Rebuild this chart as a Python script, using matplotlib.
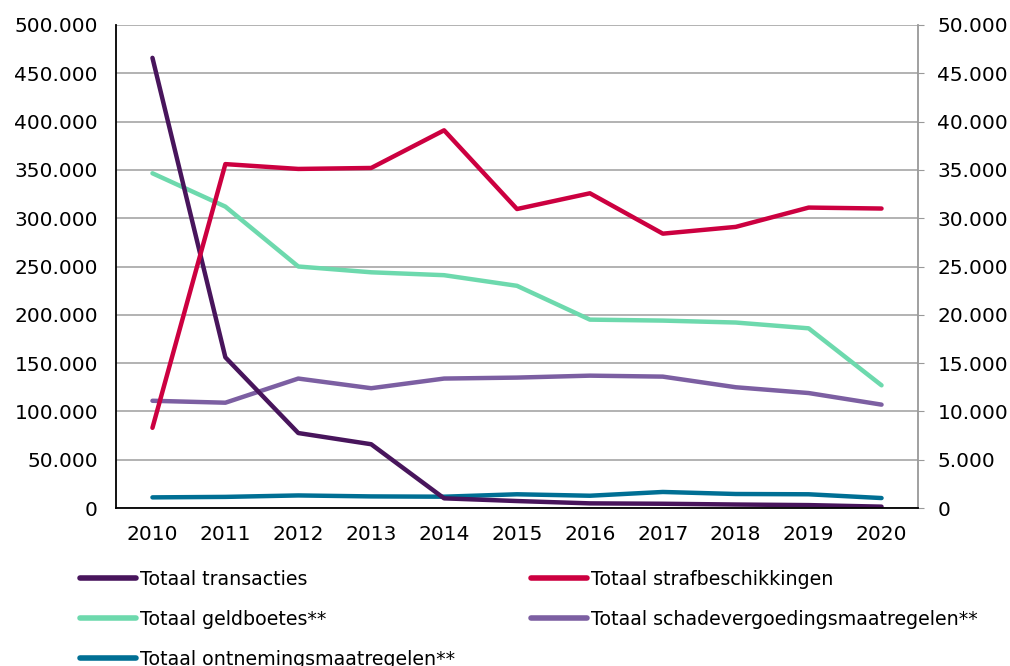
import matplotlib
matplotlib.use("Agg")
import matplotlib.pyplot as plt
from matplotlib.ticker import FuncFormatter, MultipleLocator

years = ["2010", "2011", "2012", "2013", "2014", "2015", "2016", "2017", "2018", "2019", "2020"]

# left axis
transacties = [466000, 156000, 77600, 66000, 10000, 7200, 4800, 4400, 3600, 3000, 1400]
strafbeschikkingen = [83000, 356000, 351000, 352000, 391000, 309500, 325800, 284000, 291000, 311000, 310000]
# right axis
geldboetes = [34650, 31200, 25000, 24400, 24100, 23000, 19500, 19400, 19200, 18600, 12700]
schadevergoeding = [11100, 10900, 13400, 12400, 13400, 13500, 13700, 13600, 12500, 11900, 10700]
ontneming = [1100, 1150, 1300, 1200, 1170, 1420, 1270, 1660, 1450, 1420, 1030]

labels = ["Totaal transacties", "Totaal strafbeschikkingen", "Totaal geldboetes**",
          "Totaal schadevergoedingsmaatregelen**", "Totaal ontnemingsmaatregelen**"]
colors = ["#48155c", "#cc0040", "#6dd9ad", "#7c5fa2", "#006f94"]

plt.rcParams['font.family'] = ['DejaVu Sans']

fig = plt.figure(figsize=(10.10, 6.66), dpi=100)
ax = fig.add_axes([116/1010, 1-508/666, (918-116)/1010, (508-25)/666])
ax2 = ax.twinx()

x = list(range(len(years)))
lw = 3.2
h_geld, = ax2.plot(x, geldboetes, color=colors[2], lw=lw, solid_capstyle='round')
h_schade, = ax2.plot(x, schadevergoeding, color=colors[3], lw=lw, solid_capstyle='round')
h_ontn, = ax2.plot(x, ontneming, color=colors[4], lw=lw, solid_capstyle='round', zorder=3)
h_trans, = ax.plot(x, transacties, color=colors[0], lw=lw, solid_capstyle='round')
h_straf, = ax.plot(x, strafbeschikkingen, color=colors[1], lw=lw, solid_capstyle='round')

ax.set_zorder(ax2.get_zorder() + 1)
ax.patch.set_visible(False)

ax.set_xlim(-0.5, len(years) - 0.5)
ax.set_ylim(0, 500000)
ax2.set_ylim(0, 50000)
ax.yaxis.set_major_locator(MultipleLocator(50000))
ax2.yaxis.set_major_locator(MultipleLocator(5000))
fmt = FuncFormatter(lambda v, p: f"{v:,.0f}".replace(",", "."))
ax.yaxis.set_major_formatter(fmt)
ax2.yaxis.set_major_formatter(fmt)
ax.set_xticks(x)
ax.set_xticklabels(years)

ax2.grid(axis='y', color='#a6a6a6', lw=1.2)
ax2.set_axisbelow(True)

for s in ['top']:
    ax.spines[s].set_visible(False)
    ax2.spines[s].set_visible(False)
ax.spines['left'].set_color('black')
ax.spines['left'].set_linewidth(1.3)
ax.spines['bottom'].set_color('black')
ax.spines['bottom'].set_linewidth(1.3)
ax.spines['right'].set_visible(False)
ax2.spines['left'].set_visible(False)
ax2.spines['bottom'].set_visible(False)
ax2.spines['right'].set_color('#999999')
ax2.spines['right'].set_linewidth(1.3)

ax.tick_params(axis='y', length=0, pad=13, labelsize=14.5, colors='black')
ax.tick_params(axis='x', length=0, pad=12, labelsize=14.5)
ax2.tick_params(axis='y', length=4, pad=10, labelsize=14.5, color='#999999', labelcolor='black')

handles = [h_trans, h_geld, h_ontn, h_straf, h_schade]
labs = [labels[0], labels[2], labels[4], labels[1], labels[3]]
leg = fig.legend(handles, labs, loc='upper left', bbox_to_anchor=(80/1010, 1-570/666),
                 ncol=2, frameon=False, fontsize=13.7, handlelength=2.95, handletextpad=0.2,
                 labelspacing=1.1, columnspacing=4.0, borderaxespad=0, borderpad=0)
for l in leg.get_lines():
    l.set_linewidth(4)

fig.savefig("out.png", dpi=100)
